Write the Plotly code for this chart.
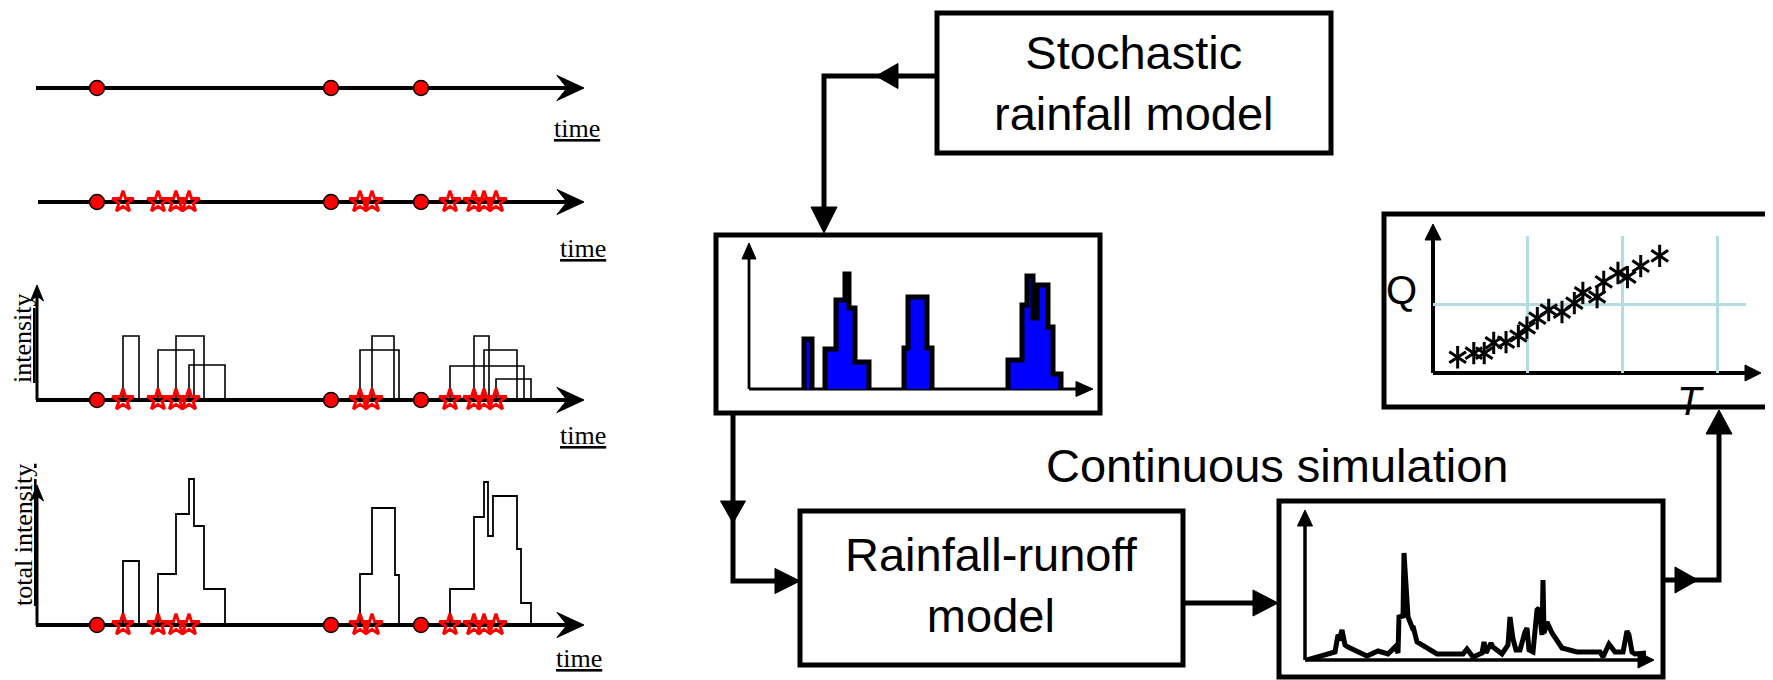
import plotly.graph_objects as go

W, H = 1773, 680
OFF = 8  # page body margin: the figure starts 8px from the window's top-left corner
FW, FH = W - OFF, H - OFF

# ---------------- data ----------------
# left panel: rectangular-pulse rainfall construction (time in arbitrary units)
storm_origins = [97, 331, 421]
cell_starts = [123, 158, 176, 189, 360, 372, 450, 474, 484, 496]
cell_ends = [139, 194, 204, 225, 399, 394, 524, 489, 517, 531]
cell_intensity = [6.4, 5.0, 6.4, 3.5, 5.0, 6.4, 3.4, 6.4, 5.0, 2.1]

total_t_a = [123, 139]
total_v_a = [6.4, 0]
total_t_b = [158, 176, 189, 194, 204, 225]
total_v_b = [5.1, 11.1, 14.6, 9.9, 3.6, 0]
total_t_c = [360, 372, 395, 399]
total_v_c = [5.1, 11.7, 5.0, 0]
total_t_d = [450, 474, 484, 488, 493, 517, 521, 531]
total_v_d = [3.6, 10.8, 14.3, 8.9, 12.9, 7.6, 2.2, 0]

# simulated rainfall (blue hyetograph)
rain_t_a = [55, 63]
rain_v_a = [5.0, 0]
rain_t_b = [76, 87, 96, 100, 106, 120]
rain_v_b = [4.0, 8.9, 11.5, 8.1, 2.7, 0]
rain_t_c = [155, 159, 178, 183]
rain_v_c = [4.1, 9.2, 4.1, 0]
rain_t_d = [259, 273, 278, 284, 288, 299, 304, 312]
rain_v_d = [2.9, 8.4, 11.3, 7.1, 10.4, 6.2, 1.5, 0]

# simulated runoff series
flow_t = [2, 27, 30, 33, 35, 37, 40, 43, 62, 73, 83, 90, 93, 94, 98, 99, 103, 107, 108,
          112, 132, 158, 162, 168, 177, 179, 181, 186, 188, 197, 203, 205, 208, 211, 215,
          220, 222, 224, 228, 232, 234, 237, 238, 239, 242, 247, 257, 272, 295, 298, 304,
          310, 318, 322, 324, 327, 330, 341]
flow_q = [0.0, 0.6, 0.8, 2.5, 2.3, 3.0, 1.5, 1.3, 0.4, 0.9, 0.6, 1.3, 0.7, 4.3, 4.4, 10.7,
          4.3, 3.3, 3.4, 1.8, 0.6, 0.6, 1.1, 0.3, 0.7, 1.8, 0.7, 1.7, 1.3, 0.6, 1.5, 4.3,
          2.1, 1.0, 1.0, 2.8, 3.2, 1.0, 0.8, 5.0, 5.2, 2.5, 8.0, 2.7, 3.8, 2.7, 1.2, 0.8,
          0.8, 0.3, 1.6, 0.8, 0.8, 2.9, 2.5, 0.8, 0.6, 0.7]

# flood frequency (Q vs T)
return_period = [0.26, 0.43, 0.54, 0.64, 0.77, 0.90, 0.99, 1.10, 1.22, 1.36, 1.49, 1.58,
                 1.73, 1.80, 1.95, 2.05, 2.19, 2.39]
peak_flow = [0.23, 0.29, 0.29, 0.44, 0.45, 0.54, 0.66, 0.80, 0.92, 0.89, 1.02, 1.17,
             1.11, 1.33, 1.46, 1.40, 1.56, 1.71]
qt_grid_T = [1, 2, 3]
qt_grid_Q = [1]


# ---------------- helpers ----------------
def px(x):
    return (x - OFF) / FW


def py(y):
    return 1 - (y - OFF) / FH


shapes = []
annotations = []


def seg(x0, y0, x1, y1, w):
    shapes.append(dict(type="line", xref="paper", yref="paper", x0=px(x0), y0=py(y0),
                       x1=px(x1), y1=py(y1), line=dict(color="black", width=w), layer="below"))


def polyline(pts, w):
    path = "M " + " L ".join(f"{px(x):.6f},{py(y):.6f}" for x, y in pts)
    shapes.append(dict(type="path", xref="paper", yref="paper", path=path,
                       fillcolor="rgba(0,0,0,0)", line=dict(color="black", width=w), layer="below"))


def poly(pts):
    path = "M " + " L ".join(f"{px(x):.6f},{py(y):.6f}" for x, y in pts) + " Z"
    shapes.append(dict(type="path", xref="paper", yref="paper", path=path,
                       fillcolor="black", line=dict(color="black", width=1), layer="below"))


def head(tx, ty, d, L, hw, notch=0):
    if d == "right":
        pts = [(tx, ty), (tx - L, ty - hw), (tx - L + notch, ty), (tx - L, ty + hw)]
    elif d == "left":
        pts = [(tx, ty), (tx + L, ty - hw), (tx + L - notch, ty), (tx + L, ty + hw)]
    elif d == "up":
        pts = [(tx, ty), (tx - hw, ty + L), (tx, ty + L - notch), (tx + hw, ty + L)]
    else:
        pts = [(tx, ty), (tx - hw, ty - L), (tx, ty - L + notch), (tx + hw, ty - L)]
    if notch == 0:
        pts = [pts[0], pts[1], pts[3]]
    poly(pts)


def box(x0, y0, x1, y1, w=5):
    shapes.append(dict(type="rect", xref="paper", yref="paper", x0=px(x0), y0=py(y1),
                       x1=px(x1), y1=py(y0), line=dict(color="black", width=w),
                       fillcolor="rgba(0,0,0,0)", layer="below"))


def label(x, y, text, size, family="Liberation Sans", angle=0, color="black"):
    annotations.append(dict(x=px(x), y=py(y), xref="paper", yref="paper", text=text,
                            showarrow=False, xanchor="center", yanchor="middle",
                            textangle=angle, font=dict(family=family, size=size, color=color)))


fig = go.Figure()

# ---------------- left panel ----------------
row_axes = ["y", "y2", "y3", "y4"]
row_base = [88, 202, 400, 625]

for s, e, h in zip(cell_starts, cell_ends, cell_intensity):
    fig.add_trace(go.Scatter(x=[s, s, e, e], y=[0, h, h, 0], mode="lines", xaxis="x", yaxis="y3",
                             line=dict(color="black", width=1.6), hoverinfo="skip", showlegend=False))

for tt, vv in [(total_t_a, total_v_a), (total_t_b, total_v_b), (total_t_c, total_v_c), (total_t_d, total_v_d)]:
    fig.add_trace(go.Scatter(x=[tt[0]] + tt, y=[0] + vv, mode="lines", line_shape="hv",
                             xaxis="x", yaxis="y4", line=dict(color="black", width=1.8),
                             hoverinfo="skip", showlegend=False))

for i, ya in enumerate(row_axes):
    if i >= 1:
        fig.add_trace(go.Scatter(x=cell_starts, y=[0] * len(cell_starts), mode="markers",
                                 xaxis="x", yaxis=ya, cliponaxis=False,
                                 marker=dict(symbol="star-open", size=16, color="#FF0000",
                                             line=dict(color="#FF0000", width=3)),
                                 hoverinfo="skip", showlegend=False))
    fig.add_trace(go.Scatter(x=storm_origins, y=[0] * len(storm_origins), mode="markers",
                             xaxis="x", yaxis=ya, cliponaxis=False,
                             marker=dict(symbol="circle", size=15, color="#FF0000",
                                         line=dict(color="black", width=1.5)),
                             hoverinfo="skip", showlegend=False))

for i, yb in enumerate(row_base):
    x0 = 36 if i != 1 else 38
    seg(x0, yb, 572, yb, 4)
    head(584, yb, "right", 27, 12.5, notch=10)
seg(37, 400, 37, 292, 3)
head(37, 285, "up", 16, 6.5, notch=5)
seg(37, 625, 37, 492, 3)
head(37, 485, "up", 16, 6.5, notch=5)

label(577, 128, "<u>time</u>", 26, "Liberation Serif")
label(583, 248, "<u>time</u>", 26, "Liberation Serif")
label(583, 435, "<u>time</u>", 26, "Liberation Serif")
label(579, 658, "<u>time</u>", 26, "Liberation Serif")
label(22, 338, "<u>intensity</u>", 26, "Liberation Serif", angle=-90)
label(23, 535, "<u>total intensity</u>", 26, "Liberation Serif", angle=-90)

# ---------------- right: flow chart ----------------
box(937, 13, 1331, 153)
label(1134, 83, "Stochastic<br>rainfall model", 47)
polyline([(937, 76), (824, 76), (824, 215)], 5)
head(876, 76, "left", 22, 12.5)
head(824, 233, "down", 26, 13)

box(716, 235, 1100, 413)
seg(749, 389, 749, 255, 2.8)
head(749, 243, "up", 16, 7)
seg(749, 389, 1078, 389, 2.8)
head(1093, 389, "right", 17, 7.5)
for tt, vv in [(rain_t_a, rain_v_a), (rain_t_b, rain_v_b), (rain_t_c, rain_v_c), (rain_t_d, rain_v_d)]:
    fig.add_trace(go.Scatter(x=[tt[0]] + tt, y=[0] + vv, mode="lines", line_shape="hv",
                             fill="tozeroy", fillcolor="#0000FF", xaxis="x2", yaxis="y5",
                             line=dict(color="black", width=5), cliponaxis=False,
                             hoverinfo="skip", showlegend=False))

polyline([(733, 413), (733, 581), (780, 581)], 5)
head(733, 523, "down", 22, 12.5)
head(800, 581, "right", 25, 12.5)

box(800, 511, 1183, 665)
label(991, 585, "Rainfall-runoff<br>model", 47)

seg(1183, 603, 1258, 603, 5)
head(1278, 603, "right", 25, 13)

label(1277, 465, "Continuous simulation", 47)

box(1279, 501, 1663, 677)
seg(1305, 660, 1305, 522, 3.5)
head(1305, 510, "up", 16, 7.5)
seg(1305, 660, 1640, 660, 3.5)
head(1654, 660, "right", 16, 8)
fig.add_trace(go.Scatter(x=flow_t, y=flow_q, mode="lines", xaxis="x3", yaxis="y6",
                         line=dict(color="black", width=5), cliponaxis=False,
                         hoverinfo="skip", showlegend=False))

polyline([(1663, 580), (1719, 580), (1719, 428)], 5)
head(1698, 580, "right", 23, 13)
head(1719, 410, "up", 24, 13)

box(1384, 214, 1770, 407)
seg(1433, 373, 1433, 236, 4)
head(1433, 224, "up", 16, 8)
seg(1433, 373, 1747, 373, 4)
head(1761, 373, "right", 16, 8)
for sym in ["y-up-open", "y-down-open"]:
    fig.add_trace(go.Scatter(x=return_period, y=peak_flow, mode="markers", xaxis="x4", yaxis="y7",
                             cliponaxis=False,
                             marker=dict(symbol=sym, size=14, color="black",
                                         line=dict(color="black", width=3)),
                             hoverinfo="skip", showlegend=False))
label(1401, 290, "Q", 40)
label(1690, 401, "<i>T</i>", 40)

hidden = dict(visible=False, fixedrange=True)
fig.update_layout(
    width=FW, height=FH, margin=dict(l=0, r=0, t=0, b=0),
    paper_bgcolor="white", plot_bgcolor="rgba(0,0,0,0)",
    showlegend=False,
    xaxis=dict(domain=[px(8), px(620)], range=[8, 620], anchor="y", **hidden),
    yaxis=dict(domain=[py(108), py(68)], range=[-1, 1], anchor="x", **hidden),
    yaxis2=dict(domain=[py(222), py(182)], range=[-1, 1], anchor="x", **hidden),
    yaxis3=dict(domain=[py(400), py(280)], range=[0, 12], anchor="x", **hidden),
    yaxis4=dict(domain=[py(625), py(465)], range=[0, 16], anchor="x", **hidden),
    xaxis2=dict(domain=[px(749), px(1092)], range=[0, 343], anchor="y5", **hidden),
    yaxis5=dict(domain=[py(389), py(243)], range=[0, 14.6], anchor="x2", **hidden),
    xaxis3=dict(domain=[px(1305), px(1653)], range=[0, 348], anchor="y6", **hidden),
    yaxis6=dict(domain=[py(660), py(510)], range=[0, 15], anchor="x3", **hidden),
    xaxis4=dict(domain=[px(1433), px(1746)], range=[0, 3.3], anchor="y7", fixedrange=True,
                tickvals=qt_grid_T, showticklabels=False, ticks="", showline=False,
                zeroline=False, showgrid=True, gridcolor="#B3DDE0", gridwidth=2.5),
    yaxis7=dict(domain=[py(373), py(236)], range=[0, 2], anchor="x4", fixedrange=True,
                tickvals=qt_grid_Q, showticklabels=False, ticks="", showline=False,
                zeroline=False, showgrid=True, gridcolor="#B3DDE0", gridwidth=2.5),
    shapes=shapes, annotations=annotations,
)

fig.write_html("out.html")
